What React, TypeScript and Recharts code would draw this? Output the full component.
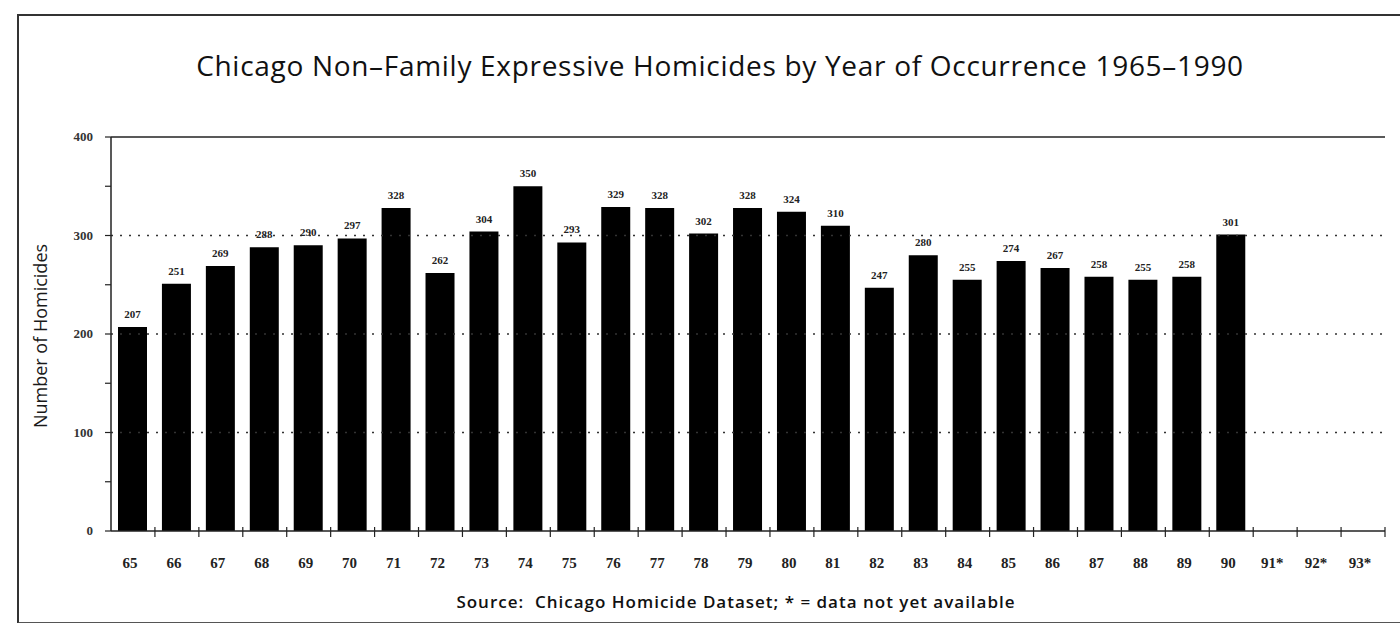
import React from 'react';
import { BarChart, Bar, XAxis, YAxis, ReferenceLine, LabelList } from 'recharts';

const years = ['65','66','67','68','69','70','71','72','73','74','75','76','77','78','79','80','81','82','83','84','85','86','87','88','89','90','91*','92*','93*'];
const homicides: (number | null)[] = [207,251,269,288,290,297,328,262,304,350,293,329,328,302,328,324,310,247,280,255,274,267,258,255,258,301,null,null,null];
const yTicks = [0,50,100,150,200,250,300,350,400];
const gridValues = [100,200,300];

const data = years.map((y, i) => ({ year: y, value: homicides[i] }));

const W = 1400;
const H = 623;
const M = { top: 137, right: 15, bottom: 62, left: 51 };
const Y_W = 60;
const PLOT_W = W - M.left - M.right - Y_W;
const HALF_BAND = PLOT_W / years.length / 2;

const XTick = (props: any) => {
  const { x, y, payload } = props;
  return (
    <g>
      <line x1={x + HALF_BAND} x2={x + HALF_BAND} y1={y - 12} y2={y - 2} stroke="#222" strokeWidth={1.2} />
      <text x={x - 3} y={y + 29} textAnchor="middle" fontFamily="'Liberation Serif', serif" fontSize={15} fontWeight={700} fill="#222">{payload.value}</text>
    </g>
  );
};

const YTick = (props: any) => {
  const { x, y, payload } = props;
  if (payload.value % 100 !== 0) return <g />;
  return (
    <text x={x - 10} y={y + 4} textAnchor="end" fontFamily="'Liberation Serif', serif" fontSize={13} fontWeight={700} fill="#333">{payload.value}</text>
  );
};

export default function App() {
  return (
    <div style={{ position: 'absolute', left: 0, top: 0, width: W, height: H, background: '#fff', overflow: 'hidden' }}>
      <div style={{ position: 'absolute', left: 17, top: 14, width: 1400, height: 606, borderLeft: '2px solid #333', borderTop: '2px solid #333', borderBottom: '2px solid #555' }} />
      <div style={{ position: 'absolute', left: 0, top: 46, width: 1440, textAlign: 'center', fontFamily: "'Open Sans', sans-serif", fontSize: 28, fontWeight: 500, color: '#111', letterSpacing: 0.7 }}>
        Chicago Non–Family Expressive Homicides by Year of Occurrence 1965–1990
      </div>
      <div style={{ position: 'absolute', left: 0, top: 590, width: 1472, textAlign: 'center', fontFamily: "'Open Sans', sans-serif", fontSize: 17, fontWeight: 600, color: '#111', letterSpacing: 1 }}>
        Source:&nbsp; Chicago Homicide Dataset; * = data not yet available
      </div>
      <div style={{ position: 'absolute', left: 40, top: 336, width: 0, height: 0 }}>
        <div style={{ position: 'absolute', transform: 'translate(-50%, -50%) rotate(-90deg)', whiteSpace: 'nowrap', fontFamily: "'Open Sans', sans-serif", fontSize: 18, color: '#1a1a1a' }}>
          Number of Homicides
        </div>
      </div>
      <div style={{ position: 'absolute', left: 0, top: 0 }}>
        <BarChart width={W} height={H} data={data} margin={M} barSize={29}>
          <XAxis dataKey="year" tickLine={false} axisLine={{ stroke: '#222', strokeWidth: 1.5 }} tick={<XTick />} interval={0} height={30} />
          <YAxis yAxisId="left" domain={[0, 400]} ticks={yTicks} width={Y_W} interval={0} tick={<YTick />} tickSize={6} tickLine={{ stroke: '#222', strokeWidth: 1.2 }} axisLine={{ stroke: '#222', strokeWidth: 1.5 }} />
          <YAxis yAxisId="right" orientation="right" domain={[0, 400]} width={0} tick={false} tickLine={false} axisLine={{ stroke: '#222', strokeWidth: 1.5 }} />
          {gridValues.map((v) => (
            <ReferenceLine key={v} yAxisId="left" y={v} stroke="#333" strokeWidth={1.5} strokeDasharray="2 7" />
          ))}
          <ReferenceLine yAxisId="left" y={400} stroke="#222" strokeWidth={1.5} />
          <Bar yAxisId="left" dataKey="value" fill="#000" isAnimationActive={false}>
            <LabelList dataKey="value" position="top" offset={9} style={{ fontFamily: "'Liberation Serif', serif", fontSize: 11, fontWeight: 700, fill: '#222' }} />
          </Bar>
        </BarChart>
      </div>
    </div>
  );
}
